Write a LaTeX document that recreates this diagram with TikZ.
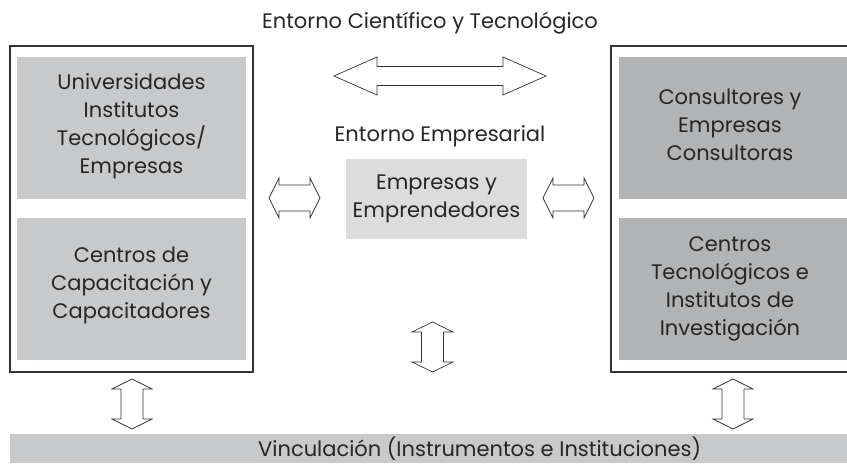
\documentclass[tikz,border=0pt]{standalone}
\usepackage{fontspec}
\setmainfont{Poppins}
\begin{document}
\begin{tikzpicture}[x=1pt,y=-1pt,
  txt/.style={text=black!85, font=\fontsize{21}{28}\selectfont, align=center, inner sep=0pt},
  outerbox/.style={draw=black!80, line width=1.1pt, fill=white},
  lbox/.style={fill=lgray, draw=none},
  rbox/.style={fill=rgray, draw=none},
  arr/.style={draw=black!80, line width=0.7pt, fill=white, line join=miter}]
\definecolor{lgray}{HTML}{C8C9CB}
\definecolor{rgray}{HTML}{B2B3B5}
\definecolor{cgray}{HTML}{DCDCDC}
\useasboundingbox (0,0) rectangle (847,465);
% horizontal double arrow: #1 x1, #2 x2, #3 yc, #4 head half, #5 shaft half, #6 head length
\newcommand\dblArrowH[6]{%
  \draw[arr] (#1,#3) -- (#1+#6,#3-#4) -- (#1+#6,#3-#5) -- (#2-#6,#3-#5) -- (#2-#6,#3-#4)
    -- (#2,#3) -- (#2-#6,#3+#4) -- (#2-#6,#3+#5) -- (#1+#6,#3+#5) -- (#1+#6,#3+#4) -- cycle;}
\newcommand\dblArrowV[6]{%
  \draw[arr] (#3,#1) -- (#3-#4,#1+#6) -- (#3-#5,#1+#6) -- (#3-#5,#2-#6) -- (#3-#4,#2-#6)
    -- (#3,#2) -- (#3+#4,#2-#6) -- (#3+#5,#2-#6) -- (#3+#5,#1+#6) -- (#3+#4,#1+#6) -- cycle;}

% title
\node[txt] (t1) at (430,23) {Entorno Científico y Tecnológico};

% left block
\draw[outerbox] (10,46) rectangle (253,372);
\fill[lbox] (17,57) rectangle (246,199);
\fill[lbox] (17,218) rectangle (246,360);
\node[txt] (u) at (131.5,126) {Universidades\\Institutos\\Tecnológicos/\\Empresas};
\node[txt] (c) at (131.5,285) {Centros de\\Capacitación y\\Capacitadores};

% right block
\draw[outerbox] (611,46) rectangle (852,372);
\fill[rbox] (619,57) rectangle (847,199);
\fill[rbox] (619,218) rectangle (847,360);
\node[txt] (co) at (730,125) {Consultores y\\Empresas\\Consultoras};
\node[txt] (ct) at (730,289) {Centros\\Tecnológicos e\\Institutos de\\Investigación};

% center
\node[txt] (ee) at (440,136) {Entorno Empresarial};
\fill[cgray] (346,159) rectangle (527,239);
\node[txt] (emp) at (436.5,199) {Empresas y\\Emprendedores};

% bottom bar
\fill[lgray] (10,434) rectangle (847,463);
\node[txt, anchor=base west] (v) at (258,456) {Vinculación (Instrumentos e Instituciones)};

% arrows
\dblArrowH{334}{546}{76}{19}{9.5}{43}
\dblArrowH{269}{320}{198}{20}{13}{10}
\dblArrowH{543}{594}{198}{20}{13}{10}
\dblArrowV{322}{372}{432.5}{20.5}{11}{10}
\dblArrowV{379}{429}{132}{20}{11}{10}
\dblArrowV{379}{429}{733}{20}{11}{10}
\end{tikzpicture}
\end{document}
